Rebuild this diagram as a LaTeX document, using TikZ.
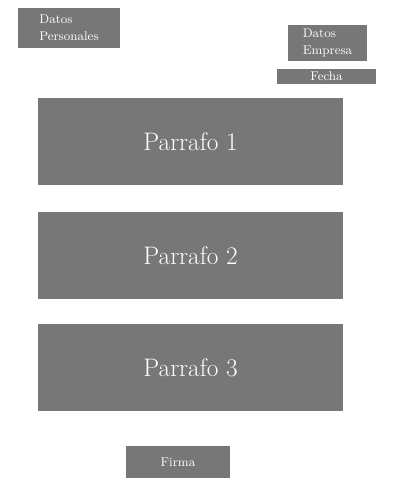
\documentclass[tikz,border=0pt]{standalone}
\definecolor{caja}{RGB}{119,119,119}
\begin{document}
\begin{tikzpicture}[x=0.025cm, y=-0.025cm,
		caja/.style={fill=caja, text=white, inner sep=0, font=\fontsize{9}{12}\selectfont},
		parrafo/.style={caja, minimum width=7.625cm, minimum height=2.175cm, font=\fontsize{18}{21}\selectfont}]
		\useasboundingbox (0, 0) rectangle (400, 500);

		\coordinate (p) at (69, 28);
		\coordinate (e) at (327.5, 43);
		\coordinate (f) at (326.5, 76.5);
		\coordinate (a) at (190.5, 141.5);
		\coordinate (b) at (190.5, 255.5);
		\coordinate (c) at (190.5, 367.5);
		\coordinate (g) at (178, 462);

		\node[caja, minimum width=2.55cm, minimum height=1cm, align=left] (personales) at (p) {Datos\\Personales};
		\node[caja, minimum width=1.975cm, minimum height=0.9cm, align=left] (empresa) at (e) {Datos\\Empresa};
		\node[caja, minimum width=2.475cm, minimum height=0.375cm] (fecha) at (f) {Fecha};

		\node[parrafo] (parrafo1) at (a) {Parrafo 1};
		\node[parrafo] (parrafo2) at (b) {Parrafo 2};
		\node[parrafo] (parrafo3) at (c) {Parrafo 3};

		\node[caja, minimum width=2.6cm, minimum height=0.8cm] (firma) at (g) {Firma};
	\end{tikzpicture}
\end{document}
